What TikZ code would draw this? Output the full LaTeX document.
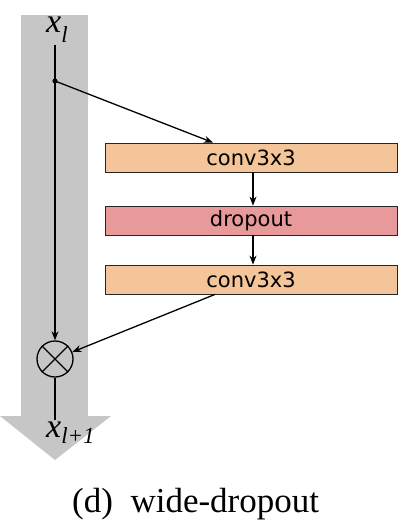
\documentclass[tikz,border=0pt]{standalone}
\usepackage{fontspec}
\setmainfont{Liberation Serif}
\newfontfamily\dejavu{DejaVu Sans}
\usetikzlibrary{arrows.meta}
\definecolor{bandgray}{RGB}{198,198,198}
\definecolor{convorange}{RGB}{243,197,152}
\definecolor{droppink}{RGB}{232,154,155}
\tikzset{
  blockbox/.style={draw=black!85, line width=0.8pt, minimum width=292pt, minimum height=29pt, inner sep=0pt, font=\dejavu\fontsize{21}{21}\selectfont},
  conn/.style={line width=1.3pt, -{Stealth[length=9pt,width=7pt]}},
  plainline/.style={line width=1.3pt},
}
\begin{document}
\begin{tikzpicture}[x=1pt,y=-1pt]
\useasboundingbox (0,0) rectangle (405,527);
% gray band with arrow
\fill[bandgray] (21,15) rectangle (88,416);
\fill[bandgray] (0,416) -- (111,416) -- (55,460) -- cycle;
% labels
\node[anchor=base west, inner sep=0pt] (xl) at (46,33) {\fontsize{34}{34}\selectfont\itshape x\raisebox{-10pt}{\fontsize{23}{23}\selectfont l}};
\node[anchor=base west, inner sep=0pt] (xl1) at (46,437) {\fontsize{34}{34}\selectfont\itshape x\raisebox{-6pt}{\fontsize{23}{23}\selectfont l+1}};
% boxes
\node[blockbox, fill=convorange] (conv1) at (251,157.5) {conv3x3};
\node[blockbox, fill=droppink] (drop) at (251,220.5) {dropout};
\node[blockbox, fill=convorange] (conv2) at (251,279.5) {conv3x3};
% multiply circle
\node[circle, draw, line width=1.3pt, minimum size=36pt, inner sep=0pt] (mul) at (55,359) {};
\draw[line width=1.3pt] (mul.north east) -- (mul.south west) (mul.north west) -- (mul.south east);
% coordinates
\coordinate (top) at (55,45);
\coordinate (dot) at (55,81);
\coordinate (bottom) at (55,420);
\fill (dot) circle (2.6pt);
% connectors
\draw[conn] (top) -- (mul);
\draw[conn] (dot) -- ([xshift=-38pt]conv1.north);
\draw[conn] (conv1.south -| 253,0) -- (drop.north -| 253,0);
\draw[conn] (drop.south -| 253,0) -- (conv2.north -| 253,0);
\draw[conn] ([xshift=-36pt]conv2.south) -- (mul);
\draw[plainline] (mul.south) -- (bottom);
% caption
\node[anchor=base west, inner sep=0pt] (cap) at (72,512) {\fontsize{35}{35}\selectfont (d)\ \ wide-dropout};
\end{tikzpicture}
\end{document}
